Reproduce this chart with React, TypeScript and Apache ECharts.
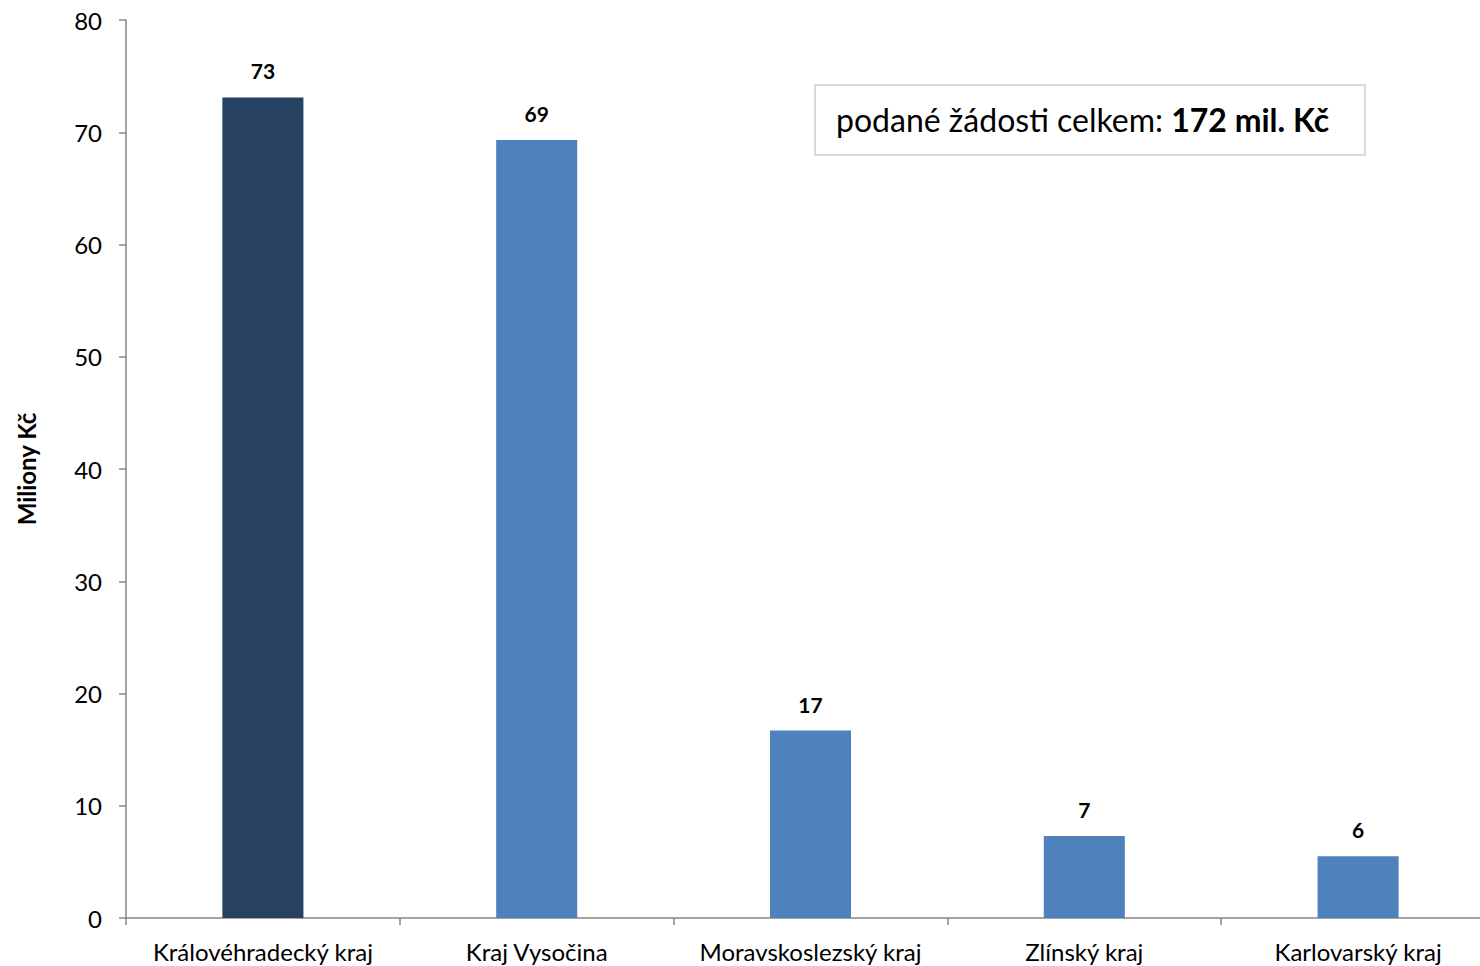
import React, { useEffect, useRef } from "react";
import * as echarts from "echarts";

const categories = [
  "Královéhradecký kraj",
  "Kraj Vysočina",
  "Moravskoslezský kraj",
  "Zlínský kraj",
  "Karlovarský kraj",
];
const values = [73.1, 69.3, 16.7, 7.3, 5.5];
const barColors = ["#264161", "#4f81bd", "#4f81bd", "#4f81bd", "#4f81bd"];
const yTitle = "Miliony Kč";
const boxLabel = "podané žádosti celkem: ";
const boxValue = "172 mil. Kč";

const FONT = "Lato, 'Open Sans', sans-serif";

export default function App() {
  const ref = useRef<HTMLDivElement>(null);
  useEffect(() => {
    if (!ref.current) return;
    const chart = echarts.init(ref.current, null, { renderer: "svg" });
    chart.setOption({
      animation: false,
      backgroundColor: "#ffffff",
      grid: { left: 126, top: 20, right: 0, bottom: 48, containLabel: false },
      xAxis: {
        type: "category",
        data: categories,
        axisLine: { lineStyle: { color: "#868686", width: 1.5 } },
        axisTick: { show: true, alignWithLabel: false, length: 7, lineStyle: { color: "#868686", width: 1.5 } },
        axisLabel: { color: "#000", fontSize: 24, fontFamily: FONT, margin: 21, interval: 0 },
      },
      yAxis: {
        type: "value",
        min: 0,
        max: 80,
        interval: 10,
        name: yTitle,
        nameLocation: "middle",
        nameGap: 88,
        nameRotate: 90,
        nameTextStyle: { color: "#000", fontSize: 24, fontWeight: "bold", fontFamily: FONT },
        splitLine: { show: false },
        axisLine: { show: true, lineStyle: { color: "#868686", width: 1.5 } },
        axisTick: { show: true, length: 7, lineStyle: { color: "#868686", width: 1.5 } },
        axisLabel: { color: "#000", fontSize: 24, fontFamily: FONT, margin: 24 },
      },
      series: [
        {
          type: "bar",
          barWidth: "29.6%",
          data: values.map((v, i) => ({ value: v, itemStyle: { color: barColors[i] } })),
          label: {
            show: true,
            position: "top",
            distance: 16,
            color: "#000",
            fontSize: 21,
            fontWeight: "bold",
            fontFamily: FONT,
            formatter: (p: any) => String(Math.round(p.value)),
          },
        },
      ],
      graphic: [
        {
          type: "rect",
          shape: { x: 815, y: 85, width: 550, height: 70 },
          style: { fill: "#ffffff", stroke: "#d9d9d9", lineWidth: 2 },
          z: 10,
        },
        {
          type: "text",
          x: 836,
          y: 119,
          z: 11,
          style: {
            text: "{n|" + boxLabel + "}{b|" + boxValue + "}",
            verticalAlign: "middle",
            rich: {
              n: { fontSize: 32, fontFamily: FONT, fill: "#000" },
              b: { fontSize: 32, fontFamily: FONT, fontWeight: "bold", fill: "#000" },
            },
          },
        },
      ],
    });
    return () => chart.dispose();
  }, []);
  return (
    <div
      style={{ position: "absolute", left: 0, top: 0, width: 1480, height: 966, overflow: "hidden", background: "#fff" }}
    >
      <div ref={ref} style={{ width: 1495, height: 966 }} />
    </div>
  );
}
